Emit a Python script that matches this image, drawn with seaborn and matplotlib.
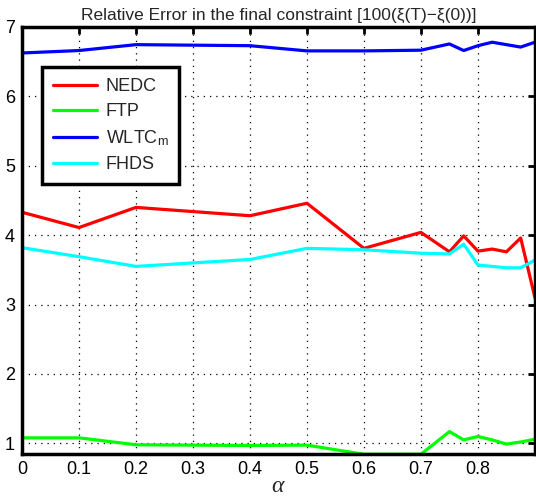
import numpy as np
import pandas as pd
import matplotlib
matplotlib.use("Agg")
import matplotlib.pyplot as plt
import seaborn as sns

# Sample points of alpha
alpha = [0.0, 0.1, 0.2, 0.4, 0.5, 0.6, 0.7, 0.75, 0.775, 0.8, 0.825, 0.85, 0.875, 0.9]

# Relative error per driving cycle
nedc = [4.33, 4.11, 4.40, 4.28, 4.46, 3.81, 4.04, 3.76, 3.99, 3.77, 3.80, 3.76, 3.96, 3.10]
ftp = [1.08, 1.08, 0.98, 0.97, 0.975, 0.843, 0.843, 1.17, 1.05, 1.10, 1.05, 0.99, 1.02, 1.06]
wltc = [6.625, 6.66, 6.745, 6.73, 6.655, 6.655, 6.665, 6.755, 6.66, 6.73, 6.78, 6.745, 6.71, 6.78]
fhds = [3.82, 3.69, 3.55, 3.65, 3.81, 3.79, 3.74, 3.73, 3.87, 3.57, 3.55, 3.53, 3.53, 3.64]

series_names = ["NEDC", "FTP", "WLTC$_\\mathregular{m}$", "FHDS"]
series_colors = ["#ff0000", "#00ff00", "#0000ff", "#00ffff"]
xtick_vals = [0, 0.1, 0.2, 0.3, 0.4, 0.5, 0.6, 0.7, 0.8, 0.9]
xtick_text = ["0", "0.1", "0.2", "0.3", "0.4", "0.5", "0.6", "0.7", "0.8", ""]
ytick_vals = [1, 2, 3, 4, 5, 6, 7]

frames = []
for name, vals in zip(series_names, [nedc, ftp, wltc, fhds]):
    frames.append(pd.DataFrame({"alpha": alpha, "err": vals, "cycle": name}))
df = pd.concat(frames, ignore_index=True)

sns.set_style("white")
plt.rcParams["font.family"] = ["Liberation Sans", "DejaVu Sans"]
plt.rcParams["mathtext.fontset"] = "custom"
plt.rcParams["mathtext.rm"] = "Liberation Sans"
plt.rcParams["mathtext.it"] = "Liberation Serif:italic"

fig = plt.figure(figsize=(5.36, 4.99), dpi=100)
ax = fig.add_axes([0.041, 0.0896, 0.957, 0.8564])

sns.lineplot(data=df, x="alpha", y="err", hue="cycle", palette=series_colors,
             hue_order=series_names, sort=False, estimator=None,
             linewidth=2.3, ax=ax, legend=False)

ax.set_xlim(0, 0.9)
ax.set_ylim(min(ftp), 7)
ax.set_xticks(xtick_vals)
ax.set_xticklabels(xtick_text)
ax.set_yticks(ytick_vals)
ax.tick_params(axis="both", direction="in", length=5, width=2, labelsize=13,
               pad=5, top=True, right=True, colors="black")
ax.grid(True, linestyle=(0, (1, 4)), color="black", linewidth=0.9)
for sp in ax.spines.values():
    sp.set_linewidth(2.5)
    sp.set_color("black")

ax.set_xlabel(r"$\alpha$", fontsize=17, labelpad=-2)
ax.set_ylabel("")
ax.set_title("Relative Error in the final constraint [100(\u03be(T)\u2212\u03be(0))]",
             fontsize=12.5, pad=5)

handles = [plt.Line2D([], [], color=c, linewidth=2.3) for c in series_colors]
leg = ax.legend(handles, series_names, loc="upper left",
                bbox_to_anchor=(0.04, 0.906), fontsize=13, handlelength=2.4,
                labelspacing=0.45, borderpad=0.6, handletextpad=0.5,
                fancybox=False, framealpha=1, borderaxespad=0)
leg.get_frame().set_edgecolor("black")
leg.get_frame().set_linewidth(2.5)

fig.savefig("out.png", dpi=100)
